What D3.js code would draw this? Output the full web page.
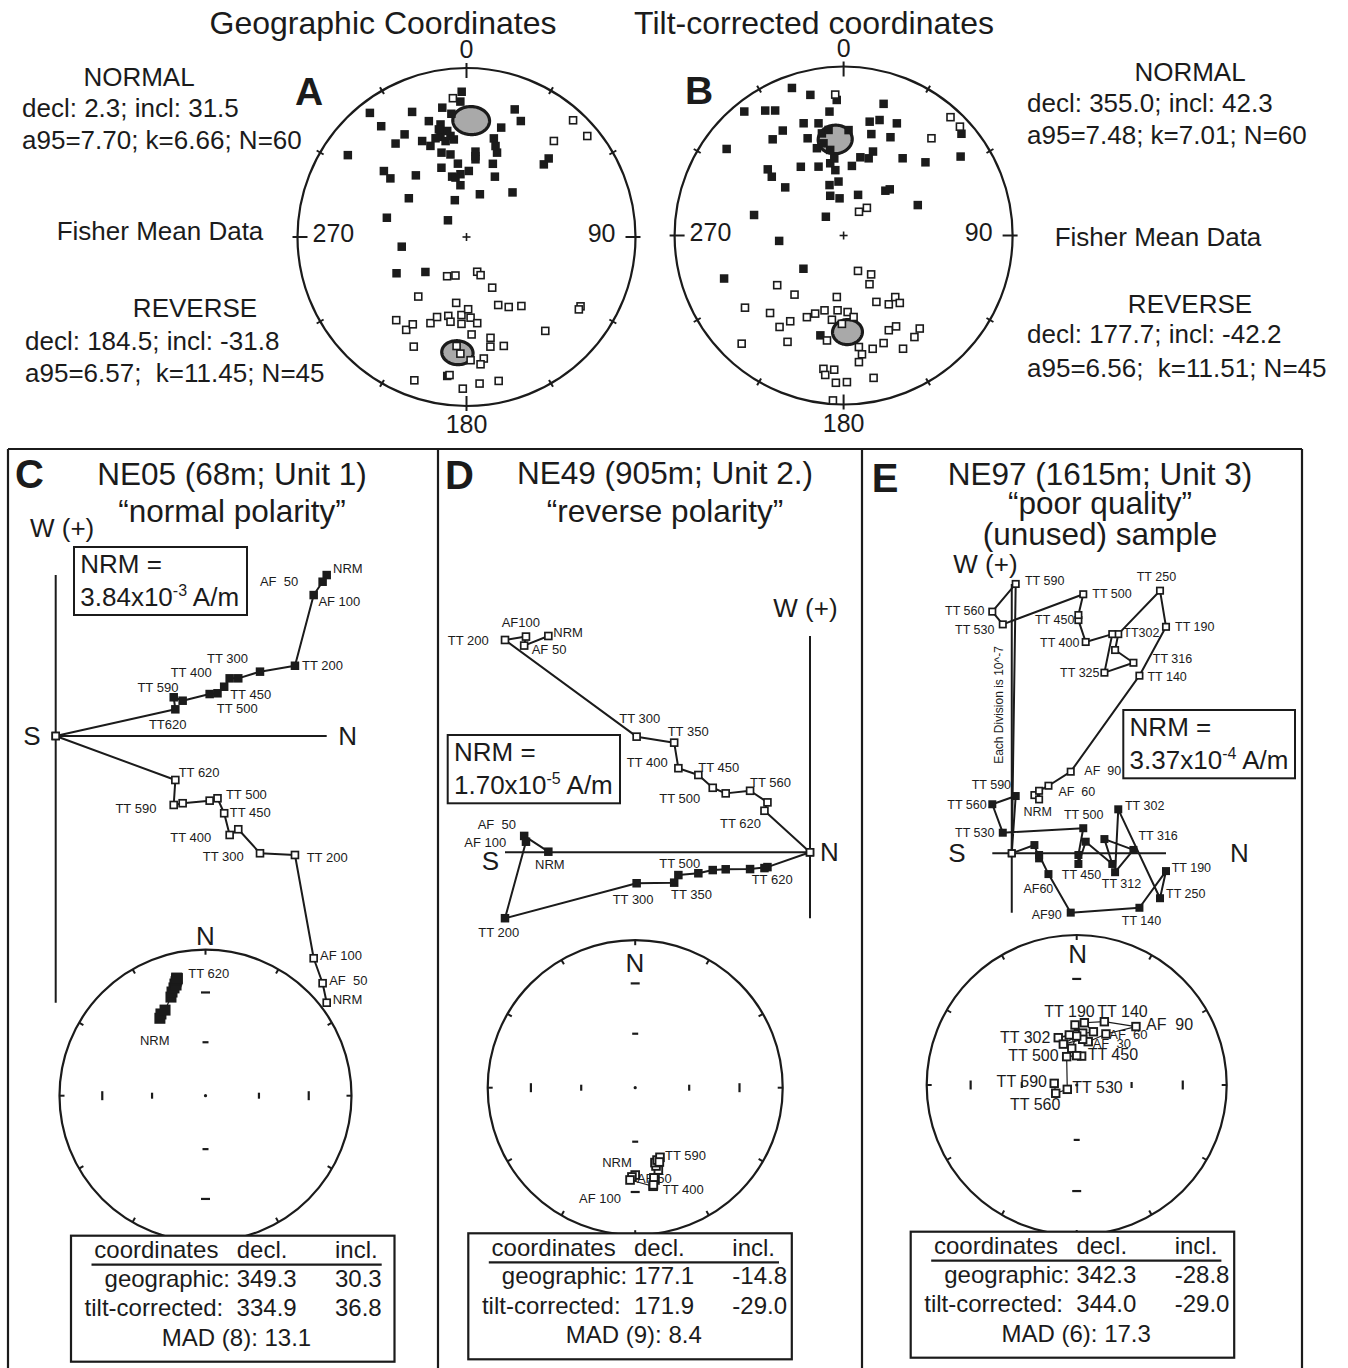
<!DOCTYPE html>
<html lang="en">
<head>
<meta charset="utf-8">
<title>Paleomagnetic site means and demagnetization examples</title>
<script src="https://cdn.jsdelivr.net/npm/d3@7/dist/d3.min.js"></script>
<style>
  html, body { margin: 0; padding: 0; background: #fff; }
  svg { display: block; font-family: "Liberation Sans", Arial, Helvetica, sans-serif; }
  svg text { white-space: pre; }
</style>
</head>
<body>
<svg id="figure" width="1348" height="1368"></svg>
<script>
// ---------------- Site directions: [declination, inclination] ----------------
const geoDirs = [
  [358.1,15.1],[357.4,20.9],[349.4,23.2],[353.0,27.4],[336.5,20.4],[322.1,7.7],[342.0,28.7],[347.0,32.2],
  [322.4,18.4],[328.9,29.8],[322.8,31.2],[335.2,37.5],[338.4,41.6],[345.4,38.7],[351.0,39.3],[347.7,41.5],
  [343.5,46.8],[349.0,48.8],[353.3,54.0],[6.0,47.9],[6.6,51.8],[15.5,39.3],[17.6,32.6],[20.7,20.4],
  [25.1,25.2],[19.9,45.9],[19.8,52.0],[304.6,15.8],[308.6,37.5],[307.6,42.6],[320.6,51.0],[340.1,54.1],
  [346.6,59.9],[354.5,59.4],[2.0,57.9],[353.3,64.8],[25.2,57.6],[17.4,68.4],[45.9,58.9],[303.9,56.2],
  [342.4,71.4],[283.6,49.9],[312.0,78.0],[261.5,58.2],[242.6,51.5],[229.6,63.9],[46.3,33.2],[46.8,37.3],
  [187.9,18.1],[342.6,38.7],[349.7,36.4],[352.6,41.4],[6.3,50.2],[17.7,42.9],[349.5,60.7],[345.6,34.6],
  [354.4,-18.6],[42.4,-7.2],[50.1,-7.6],[42.3,-24.2],[206.3,-68.9],[196.0,-70.7],[162.9,-72.5],[159.7,-70.4],
  [153.1,-62.5],[219.0,-52.6],[188.9,-57.6],[155.0,-53.4],[148.9,-50.0],[141.5,-46.7],[121.3,-22.1],[122.8,-22.0],
  [220.2,-35.8],[213.0,-34.8],[211.6,-39.2],[202.7,-44.0],[200.2,-48.2],[193.0,-50.4],[190.7,-47.7],[183.7,-51.8],
  [178.7,-54.8],[183.3,-47.3],[177.1,-50.5],[172.9,-47.4],[177.0,-41.8],[140.0,-28.3],[205.7,-28.8],[185.2,-35.5],
  [183.0,-31.5],[178.1,-27.9],[166.6,-38.6],[167.7,-34.0],[161.1,-32.4],[171.9,-28.2],[173.7,-25.2],[200.0,-10.7],
  [187.0,-18.8],[181.4,-11.2],[174.9,-14.0],[167.4,-13.8]
];
const tiltDirs = [
  [340.7,8.3],[346.7,15.6],[357.1,20.8],[353.5,27.1],[321.3,6.7],[327.9,13.8],[331.3,16.8],[16.9,19.7],
  [340.4,30.2],[347.4,32.5],[329.9,29.0],[323.6,30.0],[339.7,38.6],[348.0,38.2],[351.9,37.0],[343.0,45.1],
  [351.1,47.5],[2.7,37.6],[12.9,31.5],[17.3,29.2],[25.4,27.4],[15.3,37.8],[25.5,35.8],[306.5,15.0],
  [328.1,50.4],[311.1,40.2],[309.3,44.3],[340.0,54.3],[349.5,54.2],[352.8,58.0],[6.8,55.9],[12.1,50.9],
  [18.0,50.3],[19.3,46.3],[37.4,42.0],[48.2,35.3],[56.0,17.6],[49.2,8.7],[309.5,53.1],[344.4,64.7],
  [354.6,63.8],[341.4,69.8],[353.8,72.0],[19.6,69.2],[43.0,60.3],[45.0,58.3],[67.7,50.8],[282.9,44.8],
  [316.6,77.6],[265.2,58.6],[230.4,64.8],[250.2,25.8],[193.1,39.2],[347.7,43.5],[353.1,52.1],
  [356.6,-17.6],[42.1,-6.3],[46.9,-6.4],[42.1,-23.5],[33.0,-76.4],[40.1,-72.6],[157.9,-71.6],[144.7,-67.0],
  [152.0,-63.3],[233.2,-49.4],[219.7,-52.5],[186.3,-60.0],[233.8,-28.5],[223.5,-36.9],[211.9,-40.0],[215.0,-34.3],
  [223.3,-13.1],[207.8,-29.6],[204.2,-46.0],[200.0,-49.3],[194.3,-52.3],[184.6,-53.4],[177.0,-52.6],[173.0,-49.8],
  [187.9,-48.3],[181.1,-46.6],[189.0,-37.2],[153.7,-53.9],[146.7,-49.7],[140.0,-50.7],[140.2,-46.9],[154.5,-37.9],
  [150.0,-37.9],[159.6,-32.6],[165.6,-31.4],[140.7,-29.6],[145.1,-27.6],[152.3,-25.3],[172.2,-33.8],[171.2,-29.6],
  [173.1,-25.5],[188.6,-21.3],[184.0,-21.5],[187.5,-17.9],[183.0,-13.8],[178.7,-14.3],[168.1,-15.0],[183.7,-2.5]
];
// Fisher means: [decl, incl, a95, k, N]
const geoMeans  = [[2.3, 31.5, 7.70, 6.66, 60], [184.5, -31.8, 6.57, 11.45, 45]];
const tiltMeans = [[355.0, 42.3, 7.48, 7.01, 60], [177.7, -42.2, 6.56, 11.51, 45]];
const polarityNames = ["NORMAL", "REVERSE"];
const netTitles = ["Geographic Coordinates", "Tilt-corrected coordinates"];
const azimuthLabels = ["0", "90", "180", "270"];

// ---------------- Sample NE05 ----------------
const titleC = ["NE05 (68m; Unit 1)", "\u201Cnormal polarity\u201D"];
const stepsC = ["NRM","AF 50","AF 100","TT 200","TT 300","TT 350","TT 400","TT 450","TT 500","TT 530","TT 560","TT 590","TT 620"];
const northC = [2.519,2.481,2.398,2.224,1.899,1.697,1.617,1.566,1.504,1.431,1.180,1.097,1.112];
const westC  = [1.496,1.434,1.310,0.653,0.598,0.536,0.536,0.458,0.397,0.390,0.328,0.360,0.248];
const downC  = [2.479,2.298,2.066,1.106,1.090,0.867,0.920,0.718,0.579,0.601,0.625,0.641,0.409];
const decC = [329.5,331.4,334.7,340.7,342.1,343.7,344.7,345.1,345.5,346.0,346.2,346.5,346.2];
const incC = [38.4,36.4,35.4,29.2,26.3,24.1,21.8,22.6,20.5,19.5,19.0,18.5,18.2];
const nrmC = [3.84, -3];
const fitC = [[349.3, 30.3], [334.9, 36.8]];
const madC = [8, 13.1];

// ---------------- Sample NE49 ----------------
const titleD = ["NE49 (905m; Unit 2.)", "\u201Creverse polarity\u201D"];
const stepsD = ["NRM","AF 50","AF 100","TT 200","TT 300","TT 350","TT 400","TT 450","TT 500","TT 530","TT 560","TT 590","TT 620"];
const northD = [-1.310,-1.431,-1.422,-1.527,-0.868,-0.680,-0.659,-0.559,-0.487,-0.422,-0.300,-0.213,-0.228];
const westD  = [0.003,0.082,0.053,-0.330,-0.155,-0.152,-0.114,-0.105,-0.089,-0.085,-0.084,-0.074,-0.079];
const downD  = [-1.083,-1.035,-1.080,-1.063,-0.579,-0.549,-0.421,-0.387,-0.323,-0.295,-0.308,-0.250,-0.208];
const decD = [180.0,182.1,183.2,169.7,167.9,168.3,169.4,164.3,165.1,165.2,163.2,160.4,162.0];
const incD = [-40.5,-39.3,-37.4,-32.6,-36.2,-37.6,-33.4,-41.6,-44.3,-46.4,-47.5,-48.5,-46.0];
const nrmD = [1.70, -5];
const fitD = [[177.1, -14.8], [171.9, -29.0]];
const madD = [9, 8.4];

// ---------------- Sample NE97 ----------------
const titleE = ["NE97 (1615m; Unit 3)", "\u201Cpoor quality\u201D", "(unused) sample"];
const stepsE = ["NRM","AF 15","AF 30","AF 60","AF 90","TT 140","TT 190","TT 250","TT 302","TT 312",
                "TT 316","TT 325","TT 350","TT 400","TT 450","TT 475","TT 500","TT 530","TT 560","TT 590"];
const northE = [1.21,1.46,1.46,1.96,3.15,6.82,8.24,7.92,5.69,5.52,6.50,4.95,5.37,3.95,3.56,3.56,3.82,-0.48,-1.04,0.21];
const westE  = [0.44,-0.27,-0.09,-1.11,-3.17,-2.91,-0.95,-2.40,2.35,-1.01,0.18,0.76,-0.57,0.62,-0.57,-0.09,1.34,1.10,2.62,3.06];
const downE  = [-3.11,-2.88,-3.34,-3.61,-4.36,-9.49,-12.10,-14.03,-11.71,-10.86,-10.18,-9.65,-11.71,-11.29,-12.46,-12.73,-13.84,-12.23,-12.91,-14.39];
const decE = [358.4,6.6,14.9,29.8,45.4,23.6,7.0,17.4,338.7,351.6,7.5,341.9,0.0,352.3,9.7,0.0,340.5,245.3,248.5,274.2];
const incE = [-57.1,-61.5,-65.6,-57.8,-43.8,-52.0,-55.6,-59.5,-62.3,-62.4,-64.9,-66.6,-63.3,-69.9,-74.1,-74.1,-73.7,-84.4,-77.8,-77.8];
const nrmE = [3.37, -4];
const fitE = [[342.3, -28.8], [344.0, -29.0]];
const madE = [6, 17.3];

const tableHeader = ["coordinates", "decl.", "incl."];
const tableRowNames = ["geographic:", "tilt-corrected: "];

// ---------------- Label placement (offsets from the marks) ----------------
// [step index, projection ("h" horizontal / "v" vertical), text, dx, dy]
const zLabelsC = [
  [0,"h","NRM",6.3,-2],[1,"h","AF  50",-62.7,4],[2,"h","AF 100",4.7,10.7],[3,"h","TT 200",7,4.3],
  [4,"h","TT 300",-53,-9],[6,"h","TT 400",-59,-1.6],[7,"h","TT 450",6,12],[8,"h","TT 500",-0.7,19.4],
  [11,"h","TT 590",-36.3,-5],[12,"h","TT620",-26.4,20],
  [0,"v","NRM",6,1.3],[1,"v","AF  50",6.6,1.7],[2,"v","AF 100",6.4,1.7],[3,"v","TT 200",11.7,6.7],
  [4,"v","TT 300",-57.3,7.4],[6,"v","TT 400",-59.3,6.7],[7,"v","TT 450",5.7,4],[8,"v","TT 500",8.4,1],
  [11,"v","TT 590",-58.3,8.3],[12,"v","TT 620",3.3,-2.7]
];
const zLabelsD = [
  [0,"v","NRM",5,0.7],[2,"v","AF100",-24.3,-9.3],[3,"v","TT 200",-57.3,5],[1,"v","AF 50",7.5,8.4],
  [4,"v","TT 300",-17.4,-13.4],[5,"v","TT 350",-6.5,-7],[6,"v","TT 400",-51.7,-1.5],[7,"v","TT 450",0,-3.3],
  [10,"v","TT 560",0,-4.1],[8,"v","TT 500",-53.4,14.9],[12,"v","TT 620",-44.5,17.5],
  [1,"h","AF  50",-46.5,-6.6],[2,"h","AF 100",-61.7,5],[0,"h","NRM",-13.3,17.6],[8,"h","TT 500",-53.4,-1.8],
  [12,"h","TT 620",-12.8,16.2],[4,"h","TT 300",-24,21],[5,"h","TT 350",-3.2,16.6],[3,"h","TT 200",-26.7,18.5]
];
const zLabelsE = [
  [19,"v","TT 590",9.3,1],[16,"v","TT 500",9,3.4],[7,"v","TT 250",-23.3,-10],[18,"v","TT 560",-47.3,3.3],
  [14,"v","TT 450",-43.3,4.3],[17,"v","TT 530",-47.7,10],[6,"v","TT 190",9,4],[8,"v","TT302",5,3.3],
  [13,"v","TT 400",-45.7,4.7],[10,"v","TT 316",19.4,0.6],[11,"v","TT 325",-44.3,4],[5,"v","TT 140",8,5],
  [4,"v","AF  90",13.6,3.3],[3,"v","AF  60",10,10],[0,"v","NRM",-11,20.7],
  [19,"h","TT 590",-44,-6.7],[18,"h","TT 560",-45,5],[16,"h","TT 500",-19.3,-9],[8,"h","TT 302",6.7,0.7],
  [17,"h","TT 530",-47.7,4],[10,"h","TT 316",5,-10],[14,"h","TT 450",-16.6,15.3],[9,"h","TT 312",-13.3,16],
  [6,"h","TT 190",5.7,1.3],[7,"h","TT 250",6,0],[3,"h","AF60",-25,18.7],[4,"h","AF90",-39,6.6],
  [5,"h","TT 140",-17.6,17.3]
];
// [step index, text, dx, dy, font size]
const netLabelsC = [[12,"TT 620",11.6,0,13],[0,"NRM",-20,27,13]];
const netLabelsD = [[11,"TT 590",5,2.7,13],[0,"NRM",-33,-8.3,13],[6,"TT 400",9.4,9,13],[2,"AF 100",-51,22.7,13],[1,"AF 50",5,6,13]];
const netLabelsE = [[6,"TT 190",-40,-5.4,16],[5,"TT 140",-7,-4.4,16],[4,"AF  90",10,3.3,16],[3,"AF  60",3.3,5.3,13],
  [2,"AF  30",4.4,6.6,13],[8,"TT 302",-58.3,5,16],[16,"TT 500",-58.4,4,16],[14,"TT 450",6,4,16],
  [19,"TT 590",-57.6,3.4,16],[17,"TT 530",5,4,16],[18,"TT 560",-45.7,16.7,16]];

// ---------------- Drawing helpers ----------------
const rad = Math.PI / 180;
const INK = "#1b1b1b";
const CONE_FILL = "#a9a9a9";
const svg = d3.select("#figure");

function txt(g, x, y, s, size, anchor, weight) {
  return g.append("text").attr("x", x).attr("y", y).attr("font-size", size)
    .attr("text-anchor", anchor || "start").attr("font-weight", weight || "normal")
    .attr("fill", INK).text(s);
}
function seg(g, x1, y1, x2, y2, w) {
  g.append("line").attr("x1", x1).attr("y1", y1).attr("x2", x2).attr("y2", y2)
    .attr("stroke", INK).attr("stroke-width", w || 2);
}
// Lambert equal-area (Schmidt) projection; upper-hemisphere points use |inc|
function equalArea(cx, cy, R) {
  const radius = d3.scaleSqrt().domain([0, 1]).range([0, R]);
  return ([dec, inc]) => {
    const r = radius(1 - Math.sin(Math.abs(inc) * rad));
    return [cx + r * Math.sin(dec * rad), cy - r * Math.cos(dec * rad)];
  };
}
function unitVector(dec, inc) {
  return [Math.cos(inc * rad) * Math.cos(dec * rad), Math.cos(inc * rad) * Math.sin(dec * rad), Math.sin(inc * rad)];
}
// small circle of radius a95 around a mean direction
function confidenceCircle(dec, inc, a95, n) {
  const m = unitVector(dec, inc), u = unitVector(dec, inc - 90), v = unitVector(dec + 90, 0);
  const ca = Math.cos(a95 * rad), sa = Math.sin(a95 * rad);
  return d3.range(n || 96).map(j => {
    const t = 2 * Math.PI * j / (n || 96);
    const p = m.map((mk, k) => ca * mk + sa * (Math.cos(t) * u[k] + Math.sin(t) * v[k]));
    return [Math.atan2(p[1], p[0]) / rad, Math.asin(Math.max(-1, Math.min(1, p[2]))) / rad];
  });
}
function square(g, p, size, filled, sw) {
  g.append("rect").attr("x", p[0] - size / 2).attr("y", p[1] - size / 2)
    .attr("width", size).attr("height", size)
    .attr("fill", filled ? INK : "#fff")
    .attr("stroke", filled ? "none" : INK).attr("stroke-width", filled ? 0 : sw);
}

// ---------------- Site-mean stereonets ----------------
function drawSiteNet(L, dirs, means, title, letter) {
  const g = svg.append("g");
  const proj = equalArea(L.cx, L.cy, L.R);
  txt(g, L.titleX, 34, title, 32, "middle");
  txt(g, L.letter[0], L.letter[1], letter, 39, "start", "bold");

  g.append("circle").attr("cx", L.cx).attr("cy", L.cy).attr("r", L.R)
    .attr("fill", "none").attr("stroke", INK).attr("stroke-width", 2.2);
  d3.range(0, 360, 30).forEach(a => {
    const card = a % 90 === 0;
    const r0 = card ? L.R - 10 : L.R - 4, r1 = card ? L.R + 5 : L.R + 4;
    const s = Math.sin(a * rad), c = Math.cos(a * rad);
    seg(g, L.cx + r0 * s, L.cy - r0 * c, L.cx + r1 * s, L.cy - r1 * c, 2);
  });
  seg(g, L.cx - 4, L.cy, L.cx + 4, L.cy, 1.6);
  seg(g, L.cx, L.cy - 4, L.cx, L.cy + 4, 1.6);

  txt(g, L.cx, L.cy - L.R - 10, azimuthLabels[0], 25, "middle");
  txt(g, L.cx + L.R - 20, L.cy + 5, azimuthLabels[1], 25, "end");
  txt(g, L.cx, L.cy + L.R + 27, azimuthLabels[2], 25, "middle");
  txt(g, L.cx - L.R + 15, L.cy + 5, azimuthLabels[3], 25, "start");

  means.forEach(m => {
    const ring = confidenceCircle(m[0], m[1], m[2]).map(proj);
    g.append("path").attr("d", d3.line().curve(d3.curveLinearClosed)(ring))
      .attr("fill", CONE_FILL).attr("stroke", INK).attr("stroke-width", 3.2);
  });
  dirs.forEach(d => square(g, proj(d), d[1] >= 0 ? 8.5 : 7, d[1] >= 0, 1.6));

  // statistics text
  means.forEach((m, i) => {
    const b = L.blocks[i];
    txt(g, b.cx, b.ty, polarityNames[i], 26, "middle");
    txt(g, b.x, b.y1, `decl: ${m[0].toFixed(1)}; incl: ${m[1].toFixed(1)}`, 26);
    txt(g, b.x, b.y2, `a95=${m[2].toFixed(2)};${b.sep}k=${m[3].toFixed(2)}; N=${m[4]}`, 26);
  });
  txt(g, L.fisher[0], L.fisher[1], "Fisher Mean Data", 26, "middle");
}

drawSiteNet({
  cx: 466.5, cy: 237, R: 169, titleX: 383, letter: [295, 105], fisher: [160, 240],
  blocks: [{ cx: 139, ty: 86, x: 22, y1: 117, y2: 149, sep: " " },
           { cx: 195, ty: 317, x: 25, y1: 350, y2: 382, sep: "  " }]
}, geoDirs, geoMeans, netTitles[0], "A");

drawSiteNet({
  cx: 843.6, cy: 235.5, R: 169, titleX: 814, letter: [685, 104], fisher: [1158, 246],
  blocks: [{ cx: 1190, ty: 81, x: 1027, y1: 112, y2: 144, sep: " " },
           { cx: 1190, ty: 313, x: 1027, y1: 343, y2: 377, sep: "  " }]
}, tiltDirs, tiltMeans, netTitles[1], "B");

// ---------------- Panel frames ----------------
const frame = svg.append("g");
seg(frame, 8, 449, 1302, 449, 2.2);
[8, 438, 862, 1302].forEach(x => seg(frame, x, 449, x, 1368, 2.2));

// ---------------- Demagnetization panels ----------------
function drawPanel(P) {
  const g = svg.append("g");
  txt(g, P.letterPos[0], P.letterPos[1], P.letter, 40, "start", "bold");
  P.title.forEach((t, i) => txt(g, P.titleX, P.titleY[i], t, 31.5, "middle"));

  // --- orthogonal vector plot ---
  const Z = P.zij;
  const nExt = d3.extent([0, ...P.north]);
  const x = d3.scaleLinear().domain(nExt).range([Z.x0, Z.x1]);
  const k = (Z.x1 - Z.x0) / (nExt[1] - nExt[0]);
  const y = d3.scaleLinear().domain([0, 1]).range([Z.oy, Z.oy - k]);
  const vExt = d3.extent([0, ...P.west, ...P.down.map(v => -v)]);

  seg(g, x(nExt[0]), y(0), x(nExt[1]), y(0), 2);
  seg(g, x(0), y(vExt[1]), x(0), y(vExt[0]), 2);
  txt(g, Z.S[0], Z.S[1], "S", 26);
  txt(g, Z.N[0], Z.N[1], "N", 26);
  txt(g, Z.W[0], Z.W[1], "W (+)", 26);
  if (Z.note) {
    g.append("text").attr("transform", `translate(${Z.note[0]},${Z.note[1]}) rotate(-90)`)
      .attr("text-anchor", "middle").attr("font-size", 12).attr("fill", INK).text(Z.note[2]);
  }

  const origin = [x(0), y(0)];
  const horiz = P.north.map((n, i) => [x(n), y(P.west[i])]);
  const vert = P.north.map((n, i) => [x(n), y(-P.down[i])]);
  const hLine = (Z.hFromOrigin ? [origin] : []).concat(horiz, [origin]);
  const vLine = vert.concat([origin]);
  const line = d3.line();
  [hLine, vLine].forEach(pts => g.append("path").attr("d", line(pts))
    .attr("fill", "none").attr("stroke", INK).attr("stroke-width", 2).attr("stroke-linejoin", "round"));

  horiz.concat([origin]).forEach(p => square(g, p, Z.sq, true));
  vert.concat([origin]).forEach(p => square(g, p, Z.sq - 1.6, false, 1.7));

  P.zLabels.forEach(([i, proj, s, dx, dy]) => {
    const p = proj === "h" ? horiz[i] : vert[i];
    txt(g, p[0] + dx, p[1] + dy, s, Z.labelSize);
  });

  // --- NRM intensity box ---
  const B = P.nrmBox;
  g.append("rect").attr("x", B[0]).attr("y", B[1]).attr("width", B[2]).attr("height", B[3])
    .attr("fill", "#fff").attr("stroke", INK).attr("stroke-width", 2);
  txt(g, B[0] + 6.3, B[1] + 26, "NRM =", 26);
  const t = txt(g, B[0] + 6.3, B[1] + 59, "", 26);
  t.append("tspan").text(`${P.nrm[0].toFixed(2)}x10`);
  t.append("tspan").attr("dy", -10).attr("font-size", 16).text(`${P.nrm[1]}`);
  t.append("tspan").attr("dy", 10).text(" A/m");

  // --- equal-area plot of the demagnetization path ---
  const N = P.net;
  const proj = equalArea(N.cx, N.cy, N.R);
  const ng = g.append("g");
  ng.append("circle").attr("cx", N.cx).attr("cy", N.cy).attr("r", N.R)
    .attr("fill", "#fff").attr("stroke", INK).attr("stroke-width", 2.2);
  d3.range(0, 360, 30).forEach(a => {
    const s = Math.sin(a * rad), c = Math.cos(a * rad);
    seg(ng, N.cx + (N.R - 5) * s, N.cy - (N.R - 5) * c, N.cx + N.R * s, N.cy - N.R * c, 2);
  });
  [0, 90, 180, 270].forEach(az => [30, 60].forEach(inc => {
    const p = proj([az, inc]);
    const half = inc === 30 ? 4.5 : 3;
    if (az % 180 === 0) seg(ng, p[0] - half, p[1], p[0] + half, p[1], 2.2);
    else seg(ng, p[0], p[1] - half, p[0], p[1] + half, 2.2);
  }));
  ng.append("circle").attr("cx", N.cx).attr("cy", N.cy).attr("r", 1.6).attr("fill", INK);
  txt(ng, N.nX, N.nY, "N", 26, "middle");

  const dirPts = P.dec.map((d, i) => proj([d, P.inc[i]]));
  ng.append("path").attr("d", line(dirPts)).attr("fill", "none")
    .attr("stroke", INK).attr("stroke-width", 1.2);
  P.netLabels.forEach(([i, s, dx, dy, fs]) => txt(ng, dirPts[i][0] + dx, dirPts[i][1] + dy, s, fs));
  dirPts.forEach((p, i) => {
    const filled = P.inc[i] >= 0;
    square(ng, p, filled ? N.sq : N.sq - 1.8, filled, 1.9);
  });

  // --- component table ---
  const [bx, by] = P.table;
  const tg = g.append("g");
  tg.append("rect").attr("x", bx).attr("y", by).attr("width", 323.5).attr("height", 126)
    .attr("fill", "#fff").attr("stroke", INK).attr("stroke-width", 2.2);
  txt(tg, bx + 23.3, by + 22.5, tableHeader[0], 24);
  txt(tg, bx + 165.7, by + 22.5, tableHeader[1], 24);
  txt(tg, bx + 264, by + 22.5, tableHeader[2], 24);
  seg(tg, bx + 20.5, by + 29, bx + 310.7, by + 29, 2.2);
  P.fit.forEach((f, i) => {
    const yy = by + 51 + i * 29.5;
    txt(tg, bx + 225.7, yy, `${tableRowNames[i]} ${f[0].toFixed(1)}`, 24, "end");
    txt(tg, bx + 264, yy, f[1].toFixed(1), 24);
  });
  txt(tg, bx + 165.5, by + 110, `MAD (${P.mad[0]}): ${P.mad[1].toFixed(1)}`, 24, "middle");
}

drawPanel({
  letter: "C", letterPos: [15, 488], title: titleC, titleX: 232, titleY: [485, 522],
  north: northC, west: westC, down: downC, zLabels: zLabelsC,
  zij: { x0: 55.7, x1: 326.7, oy: 736, hFromOrigin: false, sq: 8.5, labelSize: 13,
         S: [23.3, 745], N: [338.3, 745], W: [30, 537] },
  nrm: nrmC, nrmBox: [74, 547, 173, 68],
  net: { cx: 205.5, cy: 1095.7, R: 146, nX: 205.5, nY: 945, sq: 11 },
  dec: decC, inc: incC, netLabels: netLabelsC,
  fit: fitC, mad: madC, table: [71, 1235.7]
});

drawPanel({
  letter: "D", letterPos: [445, 489], title: titleD, titleX: 665, titleY: [483.5, 521.7],
  north: northD, west: westD, down: downD, zLabels: zLabelsD,
  zij: { x0: 505, x1: 810, oy: 852.3, hFromOrigin: false, sq: 8.5, labelSize: 13,
         S: [481.7, 870], N: [820, 861], W: [773.3, 616.7] },
  nrm: nrmD, nrmBox: [447.7, 735, 172.3, 68.3],
  net: { cx: 635.2, cy: 1087.7, R: 147.5, nX: 635, nY: 971.7, sq: 9.5 },
  dec: decD, inc: incD, netLabels: netLabelsD,
  fit: fitD, mad: madD, table: [468.3, 1233.3]
});

drawPanel({
  letter: "E", letterPos: [871.7, 492], title: titleE, titleX: 1100, titleY: [485, 514, 545],
  north: northE, west: westE, down: downE, zLabels: zLabelsE,
  zij: { x0: 992.3, x1: 1166, oy: 853.3, hFromOrigin: true, sq: 8, labelSize: 12.5,
         S: [948.3, 861.7], N: [1230, 861.7], W: [953.3, 573.3],
         note: [1002.5, 705, "Each Division is 10^-7"] },
  nrm: nrmE, nrmBox: [1123.3, 710, 171.7, 68.3],
  net: { cx: 1076.7, cy: 1085, R: 150, nX: 1077.7, nY: 963.3, sq: 9.3 },
  dec: decE, inc: incE, netLabels: netLabelsE,
  fit: fitE, mad: madE, table: [910.7, 1231.7]
});
</script>
</body>
</html>
